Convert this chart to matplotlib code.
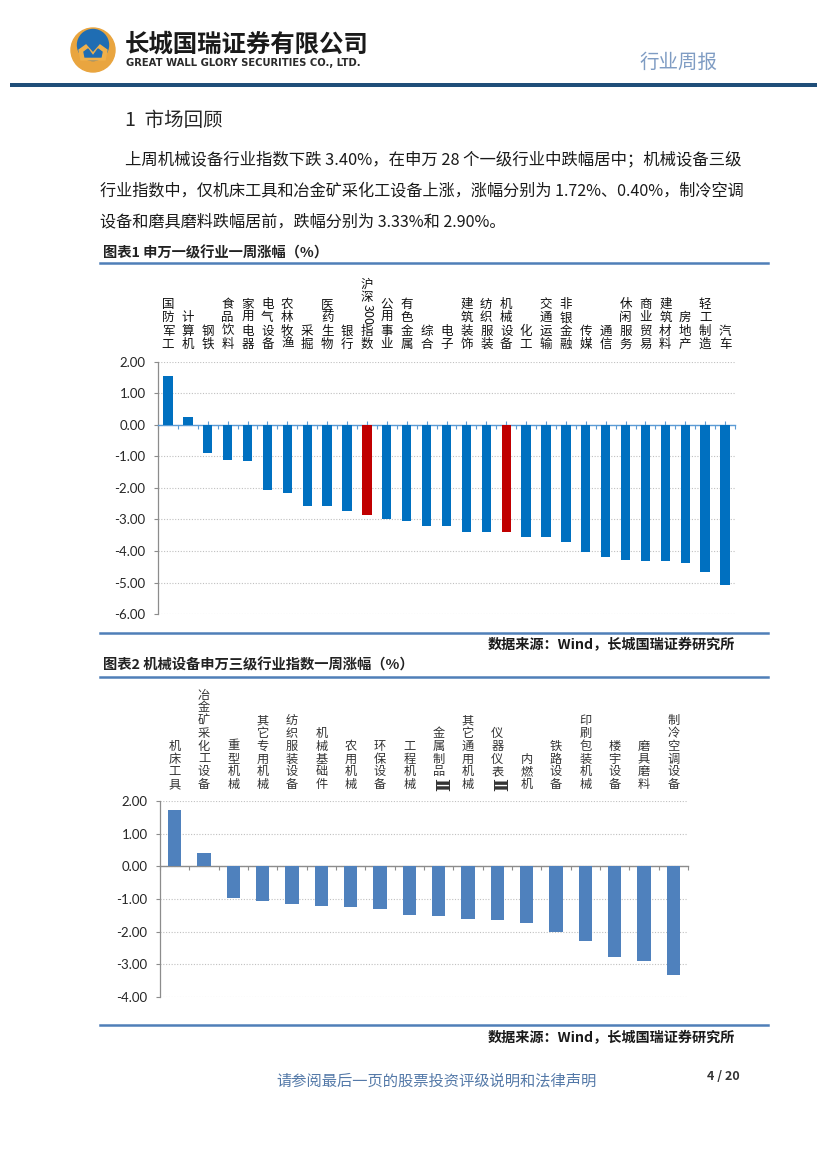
import matplotlib
matplotlib.use('Agg')
import matplotlib.pyplot as plt
from matplotlib.patches import Circle, Polygon, Rectangle
from matplotlib.ticker import FixedLocator

plt.rcParams['font.family'] = ['Noto Sans CJK SC', 'DejaVu Sans']

W, H = 827, 1169
DPI = 100

# ---------------- data ----------------
ind1_names = ['国防军工', '计算机', '钢铁', '食品饮料', '家用电器', '电气设备', '农林牧渔', '采掘',
              '医药生物', '银行', '沪深300指数', '公用事业', '有色金属', '综合', '电子', '建筑装饰',
              '纺织服装', '机械设备', '化工', '交通运输', '非银金融', '传媒', '通信', '休闲服务',
              '商业贸易', '建筑材料', '房地产', '轻工制造', '汽车']
ind1_values = [1.55, 0.26, -0.89, -1.10, -1.13, -2.07, -2.17, -2.56, -2.56, -2.73, -2.86, -2.99,
               -3.05, -3.21, -3.22, -3.39, -3.40, -3.40, -3.54, -3.55, -3.71, -4.02, -4.20, -4.27,
               -4.31, -4.33, -4.38, -4.66, -5.07]
ind1_highlight = ['沪深300指数', '机械设备']
y1_ticks = [2, 1, 0, -1, -2, -3, -4, -5, -6]

ind3_names = ['机床工具', '冶金矿采化工设备', '重型机械', '其它专用机械', '纺织服装设备', '机械基础件',
              '农用机械', '环保设备', '工程机械', '金属制品Ⅱ', '其它通用机械', '仪器仪表Ⅱ', '内燃机',
              '铁路设备', '印刷包装机械', '楼宇设备', '磨具磨料', '制冷空调设备']
ind3_values = [1.72, 0.40, -0.98, -1.05, -1.14, -1.21, -1.24, -1.30, -1.48, -1.53, -1.61, -1.65,
               -1.73, -2.00, -2.28, -2.77, -2.90, -3.33]
y2_ticks = [2, 1, 0, -1, -2, -3, -4]

para_lines = [
    '上周机械设备行业指数下跌 3.40%，在申万 28 个一级行业中跌幅居中；机械设备三级',
    '行业指数中，仅机床工具和冶金矿采化工设备上涨，涨幅分别为 1.72%、0.40%，制冷空调',
    '设备和磨具磨料跌幅居前，跌幅分别为 3.33%和 2.90%。',
]

# ---------------- figure ----------------
fig = plt.figure(figsize=(W / DPI, H / DPI), dpi=DPI)
ov = fig.add_axes([0, 0, 1, 1])
ov.set_xlim(0, W)
ov.set_ylim(H, 0)
ov.axis('off')

# logo
ov.add_patch(Circle((93, 50), 22, color='#e9a53f', zorder=1))
ov.add_patch(Circle((93, 45), 15.5, color='#1f6db3', zorder=2))
ov.add_patch(Polygon([(79, 50), (86, 45), (93, 53), (100, 45), (107, 50), (105, 60), (81, 60)],
                     closed=True, color='#f0b04a', zorder=3))
ov.add_patch(Polygon([(84, 52), (88, 49), (93, 56), (98, 49), (102, 52), (101, 57), (85, 57)],
                     closed=True, color='#1f6db3', zorder=4))
ov.text(125, 45, '长城国瑞证券有限公司', fontsize=17.6, weight='bold', color='#1a1a1a',
        ha='left', va='center')
ov.text(126, 63.5, 'GREAT WALL GLORY SECURITIES CO., LTD.', fontsize=7.2, weight='bold',
        color='#2a2a2a', ha='left', va='center', family='DejaVu Sans')
ov.text(679, 62, '行业周报', fontsize=14, color='#7f9cc3', ha='center', va='center')
ov.add_patch(Rectangle((10, 83), 807, 3.5, color='#1f4e79', lw=0))

# heading and paragraph
ov.text(125, 121, '1  市场回顾', fontsize=14, color='#262626', ha='left', va='center')
ov.text(125, 160, para_lines[0], fontsize=11.8, color='#1a1a1a', ha='left', va='center')
ov.text(100, 191, para_lines[1], fontsize=11.6, color='#1a1a1a', ha='left', va='center')
ov.text(100, 222, para_lines[2], fontsize=11.6, color='#1a1a1a', ha='left', va='center')

line_col = '#4f7fb8'
ov.text(103, 253, '图表1 申万一级行业一周涨幅（%）', fontsize=10.3, weight='bold', color='#222222',
        ha='left', va='center')
ov.plot([100, 768], [263, 263], color=line_col, lw=1.8)
ov.plot([100, 768], [633, 633], color=line_col, lw=1.8)
ov.text(735, 645, '数据来源：Wind，长城国瑞证券研究所', fontsize=10.2, weight='bold', color='#1a1a1a',
        ha='right', va='center')
ov.text(103, 665, '图表2 机械设备申万三级行业指数一周涨幅（%）', fontsize=10.3, weight='bold', color='#222222',
        ha='left', va='center')
ov.plot([100, 768], [677, 677], color=line_col, lw=1.8)
ov.plot([100, 768], [1025, 1025], color=line_col, lw=1.8)
ov.text(735, 1038, '数据来源：Wind，长城国瑞证券研究所', fontsize=10.2, weight='bold', color='#1a1a1a',
        ha='right', va='center')

ov.text(437, 1081, '请参阅最后一页的股票投资评级说明和法律声明', fontsize=11, color='#5479a8',
        ha='center', va='center')
ov.text(740, 1077, '4 / 20', fontsize=9, weight='bold', color='#333333', ha='right', va='center')


def tokenize(name):
    toks = []
    buf = ''
    for ch in name:
        if ch.isdigit():
            buf += ch
        else:
            if buf:
                toks.append(buf)
                buf = ''
            toks.append(ch)
    if buf:
        toks.append(buf)
    return toks


def vlabel(ax, i, name, step_px, gap_px, fs, color):
    toks = tokenize(name)
    y = gap_px
    for tok in reversed(toks):
        h = step_px * 1.55 if tok.isdigit() else step_px
        cy = y + h / 2
        kw = {}
        rot = 0
        if tok.isdigit():
            rot = 270
        elif tok == 'Ⅱ':
            rot = 270
            kw = dict(family='DejaVu Serif', weight='bold', fontsize=fs * 1.45)
        ax.annotate(tok, xy=(i, 1), xycoords=('data', 'axes fraction'),
                    xytext=(0, cy * 72 / DPI), textcoords='offset points',
                    ha='center', va='center', rotation=rot, color=color,
                    annotation_clip=False, **({'fontsize': fs} | kw))
        y += h


def fig_rect(left, right, top, bottom):
    return [left / W, 1 - bottom / H, (right - left) / W, (bottom - top) / H]


def style_axes(ax, yticks, axis_col, tick_col):
    ax.set_ylim(min(yticks), max(yticks))
    ax.yaxis.set_major_locator(FixedLocator(yticks))
    ax.set_yticklabels(['%.2f' % v for v in yticks], family='Lato', fontsize=9.5, color='#262626')
    ax.yaxis.grid(True, color='#c0c0c0', lw=0.8, linestyle=(0, (1, 1.5)))
    ax.set_axisbelow(True)
    ax.spines['top'].set_visible(False)
    ax.spines['right'].set_visible(False)
    ax.spines['left'].set_color('#8c8c8c')
    ax.spines['left'].set_linewidth(0.9)
    ax.spines['bottom'].set_position(('data', 0))
    ax.spines['bottom'].set_color(axis_col)
    ax.spines['bottom'].set_linewidth(1.0)
    ax.tick_params(axis='y', length=3, width=0.8, color='#8c8c8c', pad=6)
    ax.tick_params(axis='x', which='both', labelbottom=False, color=tick_col, width=0.8)


# ---------------- chart 1 ----------------
ax1 = fig.add_axes(fig_rect(158, 735, 362, 614))
n1 = len(ind1_names)
x1 = list(range(n1))
cols1 = ['#c00000' if nm in ind1_highlight else '#0070c0' for nm in ind1_names]
ax1.bar(x1, ind1_values, width=0.47, color=cols1, zorder=3)
ax1.set_xlim(-0.5, n1 - 0.5)
style_axes(ax1, y1_ticks, '#5b9bd5', '#5b9bd5')
ax1.xaxis.set_major_locator(FixedLocator(x1))
ax1.xaxis.set_minor_locator(FixedLocator([i + 0.5 for i in range(-1, n1)]))
ax1.tick_params(axis='x', which='major', direction='in', length=3)
ax1.tick_params(axis='x', which='minor', direction='out', length=3)
for i, nm in enumerate(ind1_names):
    vlabel(ax1, i, nm, 13.3, 11, 9, '#111111')

# ---------------- chart 2 ----------------
ax2 = fig.add_axes(fig_rect(160, 688, 801, 997))
n2 = len(ind3_names)
x2 = list(range(n2))
ax2.bar(x2, ind3_values, width=0.45, color='#4f81bd', zorder=3)
ax2.set_xlim(-0.5, n2 - 0.5)
style_axes(ax2, y2_ticks, '#8c8c8c', '#8c8c8c')
ax2.xaxis.set_major_locator(FixedLocator([i + 0.5 for i in range(-1, n2)]))
ax2.tick_params(axis='x', which='major', direction='out', length=3)
for i, nm in enumerate(ind3_names):
    vlabel(ax2, i, nm, 12.8, 10, 8.8, '#333333')

fig.savefig('out.png', dpi=DPI)
